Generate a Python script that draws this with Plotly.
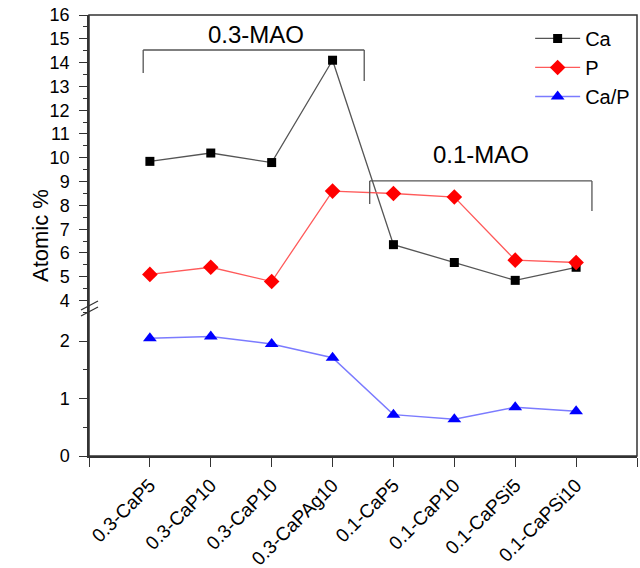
import plotly.graph_objects as go

categories = ["0.3-CaP5", "0.3-CaP10", "0.3-CaP10", "0.3-CaPAg10",
              "0.1-CaP5", "0.1-CaP10", "0.1-CaPSi5", "0.1-CaPSi10"]
ca = [9.85, 10.2, 9.8, 14.1, 6.35, 5.6, 4.85, 5.4]
p = [5.1, 5.4, 4.8, 8.6, 8.5, 8.35, 5.7, 5.6]
ca_p = [2.05, 2.08, 1.95, 1.71, 0.72, 0.64, 0.85, 0.78]

xs = list(range(len(categories)))
FONT = "Liberation Sans, Arial, sans-serif"

fig = go.Figure()
fig.add_trace(go.Scatter(x=xs, y=ca, name="Ca", yaxis="y2", mode="lines+markers",
                         line=dict(color="#555555", width=1.3),
                         marker=dict(symbol="square", size=9, color="#000000")))
fig.add_trace(go.Scatter(x=xs, y=p, name="P", yaxis="y2", mode="lines+markers",
                         line=dict(color="#ff5a5a", width=1.3),
                         marker=dict(symbol="diamond", size=12, color="#ff0000")))
fig.add_trace(go.Scatter(x=xs, y=ca_p, name="Ca/P", yaxis="y", mode="lines+markers",
                         line=dict(color="#7b7bff", width=1.5),
                         marker=dict(symbol="triangle-up", size=12, color="#0000ff")))

split = 0.34
fig.update_layout(
    width=640, height=568,
    margin=dict(l=89, r=3, t=15, b=112),
    plot_bgcolor="white", paper_bgcolor="white",
    font=dict(family=FONT, color="#000000"),
    showlegend=True,
    legend=dict(x=0.805, y=0.991, xanchor="left", yanchor="top",
                font=dict(size=20, family=FONT), bgcolor="rgba(0,0,0,0)",
                tracegroupgap=0, itemwidth=45),
    xaxis=dict(range=[-1, 8], tickvals=list(range(-1, 9)),
               ticktext=[""] + categories + [""], automargin=False,
               tickangle=-45, ticks="outside", ticklen=9, tickwidth=1.3,
               tickcolor="#333333", showline=True, linecolor="#333333", linewidth=1.5,
               showgrid=False, zeroline=False, tickfont=dict(size=19, family=FONT)),
    yaxis=dict(domain=[0, split], range=[0, 2.61], tickvals=[0, 1, 2], automargin=False,
               ticks="outside", ticklen=8, tickwidth=1.3, tickcolor="#333333",
               minor=dict(ticks="outside", ticklen=4, dtick=0.5, tick0=0, tickcolor="#333333"),
               showline=True, linecolor="#333333", linewidth=1.5,
               showgrid=False, zeroline=False, ticklabelstandoff=6,
               tickfont=dict(size=18, family=FONT)),
    yaxis2=dict(domain=[split, 1], range=[3.77, 16], dtick=1, tick0=0, automargin=False,
                ticks="outside", ticklen=8, tickwidth=1.3, tickcolor="#333333",
                minor=dict(ticks="outside", ticklen=4, dtick=0.5, tick0=0, tickcolor="#333333"),
                showline=True, linecolor="#333333", linewidth=1.5, anchor="x",
                showgrid=False, zeroline=False, ticklabelstandoff=6,
                tickfont=dict(size=18, family=FONT)),
)

# frame (top and right spines)
fig.add_shape(type="rect", xref="paper", yref="paper", x0=0, x1=1, y0=0, y1=1,
              line=dict(color="#333333", width=1.5), layer="above")

# axis break marks
def px(xp, yp):
    return (xp - 89) / 548.0, (456 - yp) / 441.0
for yoff in (0, 6):
    xa, ya = px(81, 310 + yoff)
    xb, yb = px(98, 301 + yoff)
    fig.add_shape(type="line", xref="paper", yref="paper", x0=xa, y0=ya, x1=xb, y1=yb,
                  line=dict(color="#333333", width=1.3))

# group brackets
br = dict(color="#555555", width=1.3)
for (x0, x1, ytop, yl, yr) in [(-0.11, 3.52, 14.53, 13.56, 13.23),
                                (3.61, 7.26, 9.03, 8.06, 7.76)]:
    fig.add_shape(type="line", xref="x", yref="y2", x0=x0, x1=x1, y0=ytop, y1=ytop, line=br)
    fig.add_shape(type="line", xref="x", yref="y2", x0=x0, x1=x0, y0=ytop, y1=yl, line=br)
    fig.add_shape(type="line", xref="x", yref="y2", x0=x1, x1=x1, y0=ytop, y1=yr, line=br)

fig.add_annotation(x=1.74, y=15.16, xref="x", yref="y2", text="0.3-MAO", showarrow=False,
                   font=dict(size=24, family=FONT))
fig.add_annotation(x=5.44, y=10.12, xref="x", yref="y2", text="0.1-MAO", showarrow=False,
                   font=dict(size=24, family=FONT))

fig.add_annotation(x=-0.115, y=0.5, xref="paper", yref="paper", text="Atomic %",
                   textangle=-90, showarrow=False, font=dict(size=22, family=FONT))

fig.write_html("out.html")
